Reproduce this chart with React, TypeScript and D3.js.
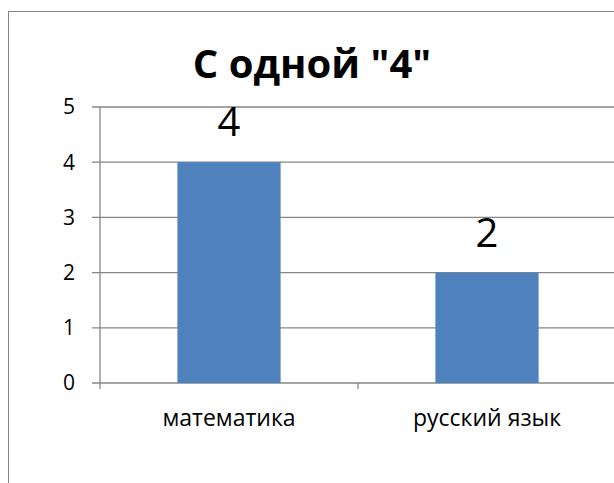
import * as d3 from "d3";

const categories = ["математика", "русский язык"];
const values = [4, 2];
const yTicks = [0, 1, 2, 3, 4, 5];
const title = 'С одной "4"';

const W = 614;
const H = 483;
const FONT = "'Open Sans', 'Noto Sans', sans-serif";

const App = () => {
  const left = 100;
  const right = 616;
  const top = 107;
  const bottom = 383;

  const x = d3
    .scaleBand()
    .domain(categories)
    .range([left, right])
    .paddingInner(0.6)
    .paddingOuter(0.3);
  const step = (right - left) / categories.length;

  const y = d3.scaleLinear().domain([0, 5]).range([bottom, top]);

  const grid = "#868686";

  return (
    <svg
      width={W}
      height={H}
      style={{ position: "absolute", left: 0, top: 0, display: "block", background: "#fff" }}
    >
      {/* outer chart frame, cut off by the picture */}
      <rect x={8.5} y={11.5} width={700} height={600} fill="#fff" stroke={grid} strokeWidth={1} />

      <text
        x={312}
        y={78}
        textAnchor="middle"
        fontFamily={FONT}
        fontWeight="bold"
        fontSize={40}
        fill="#000"
      >
        {title}
      </text>

      {/* gridlines + y ticks */}
      {yTicks.map((t) => (
        <g key={t}>
          <line x1={92} x2={right} y1={y(t)} y2={y(t)} stroke={grid} strokeWidth={1.3} />
          <text
            x={75}
            y={y(t)}
            dy="0.35em"
            textAnchor="end"
            fontFamily={FONT}
            fontSize={21}
            fill="#000"
          >
            {t}
          </text>
        </g>
      ))}

      {/* bars */}
      {categories.map((c, i) => (
        <g key={c}>
          <rect
            x={x(c) || 0}
            y={y(values[i])}
            width={x.bandwidth()}
            height={bottom - y(values[i])}
            fill="#4F81BD"
          />
          <text
            x={(x(c) || 0) + x.bandwidth() / 2}
            y={y(values[i]) - 26}
            textAnchor="middle"
            fontFamily={FONT}
            fontSize={40}
            fill="#000"
          >
            {values[i]}
          </text>
          <text
            x={(x(c) || 0) + x.bandwidth() / 2}
            y={426}
            textAnchor="middle"
            fontFamily={FONT}
            fontSize={23}
            fill="#000"
          >
            {c}
          </text>
        </g>
      ))}

      {/* y axis */}
      <line x1={left} x2={left} y1={top} y2={bottom + 6} stroke={grid} strokeWidth={1.3} />
      {/* x axis ticks at category boundaries */}
      {categories.map((_, i) => (
        <line
          key={i}
          x1={left + step * (i + 1)}
          x2={left + step * (i + 1)}
          y1={bottom}
          y2={bottom + 6}
          stroke={grid}
          strokeWidth={1.3}
        />
      ))}
    </svg>
  );
};

export default App;
